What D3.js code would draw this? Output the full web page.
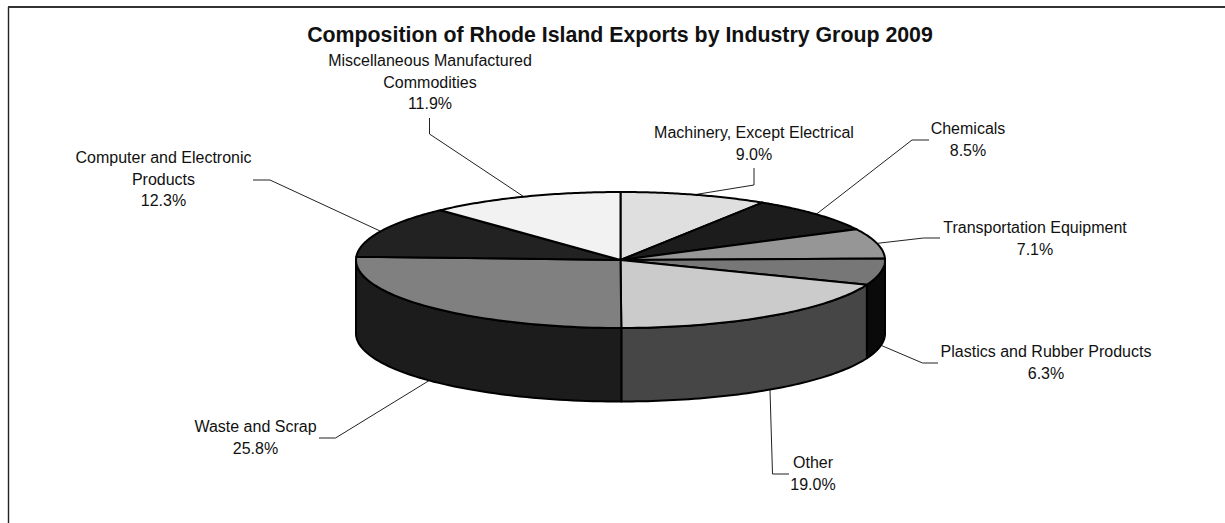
<!DOCTYPE html>
<html>
<head>
<meta charset="utf-8">
<script src="https://cdnjs.cloudflare.com/ajax/libs/d3/7.8.5/d3.min.js"></script>
<style>
  html, body { margin: 0; padding: 0; background: #fff; }
  svg { display: block; }
  text { font-family: "Liberation Sans", Arial, sans-serif; fill: #111; }
</style>
</head>
<body>
<svg id="chart" width="1225" height="523"></svg>
<script>
const titleText = "Composition of Rhode Island Exports by Industry Group 2009";
const industries = ["Machinery, Except Electrical", "Chemicals", "Transportation Equipment",
  "Plastics and Rubber Products", "Other", "Waste and Scrap",
  "Computer and Electronic Products", "Miscellaneous Manufactured Commodities"];
const shares = [9.0, 8.5, 7.1, 6.3, 19.0, 25.8, 12.3, 11.9];
const topColors = ["#dfdfdf", "#1c1c1c", "#969696", "#777777", "#cbcbcb", "#808080", "#222222", "#f2f2f2"];
const sideColors = ["#9a9a9a", "#101010", "#5a5a5a", "#0a0a0a", "#464646", "#1c1c1c", "#151515", "#aaaaaa"];

// Hand-placed label blocks: wrapped lines, centre x, first baseline.
const labelLines = [
  ["Machinery, Except Electrical"], ["Chemicals"], ["Transportation Equipment"],
  ["Plastics and Rubber Products"], ["Other"], ["Waste and Scrap"],
  ["Computer and Electronic", "Products"], ["Miscellaneous Manufactured", "Commodities"]
];
const labelX = [754, 968, 1035, 1046, 813, 255.5, 163.5, 430];
const labelY = [138, 134, 233, 357, 468, 432, 163, 66];
// Each leader starts beside its label and bends once before reaching the rim.
const leaderStart = [[754, 168], [929, 140], [940, 238], [938, 363], [789, 474], [319, 438], [253, 180], [429.5, 118]];
const leaderBend = [[754, 185], [912, 140], [923.5, 238], [922.5, 363], [772.5, 474], [335.5, 438], [270, 180], [429.5, 134]];

const svg = d3.select("#chart");
const cx = 620.5, cy = 260, rx = 264.5, ry = 68, depth = 73.5;

// Frame: open on the right and bottom edges of the view.
svg.append("path").attr("d", d3.line()([[8.5, 523], [8.5, 7]]))
  .attr("fill", "none").attr("stroke", "#222").attr("stroke-width", 1.4);
svg.append("path").attr("d", d3.line()([[8, 7], [1225, 7]]))
  .attr("fill", "none").attr("stroke", "#333").attr("stroke-width", 2);

svg.append("text").attr("x", 620).attr("y", 42)
  .attr("text-anchor", "middle").attr("font-weight", "bold").attr("font-size", 21.33)
  .text(titleText);

// Slices run clockwise from twelve o'clock in the tilted plane of the disc.
const pie = d3.pie().sort(null).value(d => d);
const arcs = pie(shares);
const rimPoint = (a, dy = 0) => [cx + rx * Math.sin(a), cy - ry * Math.cos(a) + dy];
const sampleAngles = (a0, a1) => d3.range(0, 61).map(i => a0 + (a1 - a0) * i / 60);
const line = d3.line();

// Leaders go first so the disc outline covers their ends.
const leaderEnd = arc => {
  const mid = (arc.startAngle + arc.endAngle) / 2;
  const onFront = mid > Math.PI / 2 && mid < 3 * Math.PI / 2;
  return rimPoint(mid, onFront ? depth : 0);
};
svg.append("g").selectAll("path").data(arcs).join("path")
  .attr("d", (arc, i) => line([leaderStart[i], leaderBend[i], leaderEnd(arc)]))
  .attr("fill", "none").attr("stroke", "#222").attr("stroke-width", 1);

const sideGroup = svg.append("g");
arcs.forEach((arc, i) => {
  const a0 = Math.max(arc.startAngle, Math.PI / 2);
  const a1 = Math.min(arc.endAngle, 3 * Math.PI / 2);
  if (a1 <= a0) return;
  const upper = sampleAngles(a0, a1).map(a => rimPoint(a));
  const lower = sampleAngles(a1, a0).map(a => rimPoint(a, depth));
  sideGroup.append("path")
    .attr("d", line(upper.concat(lower)) + "Z")
    .attr("fill", sideColors[i]).attr("stroke", "#000").attr("stroke-width", 2)
    .attr("stroke-linejoin", "round");
});

const topGroup = svg.append("g");
arcs.forEach((arc, i) => {
  const rim = sampleAngles(arc.startAngle, arc.endAngle).map(a => rimPoint(a));
  topGroup.append("path")
    .attr("d", line([[cx, cy]].concat(rim)) + "Z")
    .attr("fill", topColors[i]).attr("stroke", "#000").attr("stroke-width", 2)
    .attr("stroke-linejoin", "round");
});

const labels = svg.append("g").attr("font-size", 16).attr("text-anchor", "middle");
industries.forEach((name, i) => {
  const rows = labelLines[i].concat([d3.format(".1f")(shares[i]) + "%"]);
  const t = labels.append("text").attr("x", labelX[i]).attr("y", labelY[i]);
  rows.forEach((row, k) => {
    t.append("tspan").attr("x", labelX[i]).attr("dy", k ? 21.7 : 0).text(row);
  });
});
</script>
</body>
</html>
